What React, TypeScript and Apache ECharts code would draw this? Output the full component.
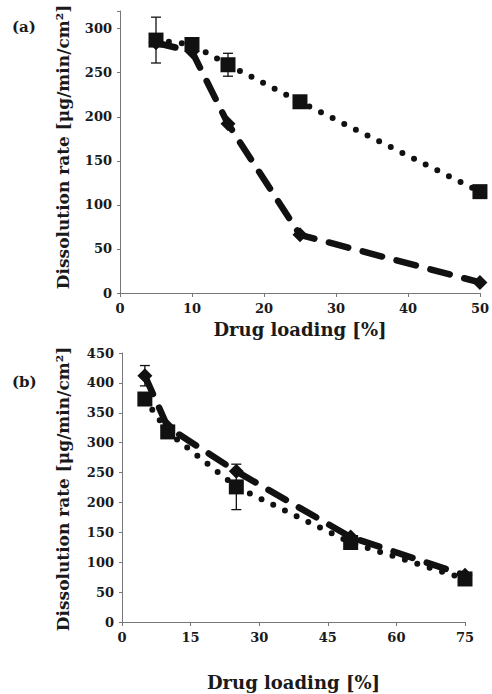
import React, { useEffect, useRef } from "react";
import * as echarts from "echarts";

// Panel (a)
const aLoading = [5, 10, 15, 25, 50];
const aSquare = [287, 282, 259, 217, 115];
const aSquareErr = [26, 4, 13, 0, 0];
const aDiamond = [284, 274, 192, 66, 12];
const aXTicks = [0, 10, 20, 30, 40, 50];
const aYTicks = [0, 50, 100, 150, 200, 250, 300];

// Panel (b)
const bLoading = [5, 10, 25, 50, 75];
const bSquare = [373, 318, 226, 133, 72];
const bSquareErr = [0, 10, 38, 0, 0];
const bDiamond = [412, 326, 252, 142, 78];
const bDiamondErr = [17, 0, 0, 0, 0];
const bXTicks = [0, 15, 30, 45, 60, 75];
const bYTicks = [0, 50, 100, 150, 200, 250, 300, 350, 400, 450];

const X_TITLE = "Drug loading [%]";
const Y_TITLE = "Dissolution rate [μg/min/cm²]";

const FONT = "DejaVu Serif";

function errData(xs: number[], ys: number[], es: number[]) {
  const out: number[][] = [];
  xs.forEach((x, i) => {
    if (es[i] > 0) out.push([x, ys[i] - es[i], ys[i] + es[i]]);
  });
  return out;
}

function errSeries(xi: number, data: number[][]) {
  return {
    type: "custom",
    xAxisIndex: xi,
    yAxisIndex: xi,
    z: 1,
    data,
    renderItem: (params: any, api: any) => {
      const x = api.value(0);
      const lo = api.coord([x, api.value(1)]);
      const hi = api.coord([x, api.value(2)]);
      const w = 5;
      const style = { stroke: "#111", lineWidth: 1.3 };
      return {
        type: "group",
        children: [
          { type: "line", shape: { x1: lo[0], y1: lo[1], x2: hi[0], y2: hi[1] }, style },
          { type: "line", shape: { x1: lo[0] - w, y1: lo[1], x2: lo[0] + w, y2: lo[1] }, style },
          { type: "line", shape: { x1: hi[0] - w, y1: hi[1], x2: hi[0] + w, y2: hi[1] }, style },
        ],
      };
    },
  };
}

function lineSeries(xi: number, xs: number[], ys: number[], symbol: string, size: number, dash: number[], width: number, z: number) {
  return {
    type: "line",
    xAxisIndex: xi,
    yAxisIndex: xi,
    z,
    data: xs.map((x, i) => [x, ys[i]]),
    symbol,
    symbolSize: size,
    itemStyle: { color: "#111" },
    lineStyle: { color: "#111", width, type: dash, cap: "round" },
  };
}

const labelStyle = { fontFamily: FONT, fontWeight: "bold" as const, fontSize: 13, color: "#1a1a1a" };
const xTitleStyle = { fontFamily: FONT, fontWeight: "bold" as const, fontSize: 18, color: "#1a1a1a" };
const axisLineStyle = { lineStyle: { color: "#777", width: 1 } };

function xAxis(gi: number, max: number, interval: number, ticks: number[], gap: number) {
  return {
    type: "value",
    gridIndex: gi,
    min: 0,
    max,
    interval,
    name: X_TITLE,
    nameLocation: "middle",
    nameGap: gap,
    nameTextStyle: xTitleStyle,
    axisLine: axisLineStyle,
    axisTick: { show: true, length: 4, lineStyle: { color: "#777" } },
    splitLine: { show: false },
    axisLabel: {
      ...labelStyle,
      margin: 9,
      formatter: (v: number) => (ticks.includes(v) ? String(v) : ""),
    },
  };
}

function yAxis(gi: number, max: number, ticks: number[]) {
  return {
    type: "value",
    gridIndex: gi,
    min: 0,
    max,
    interval: 50,
    axisLine: { show: true, ...axisLineStyle },
    axisTick: { show: true, length: 3, lineStyle: { color: "#777" } },
    splitLine: { show: false },
    axisLabel: {
      ...labelStyle,
      margin: 8,
      formatter: (v: number) => (ticks.includes(v) ? String(v) : ""),
    },
  };
}

function yTitle(cx: number, cy: number) {
  return {
    type: "text",
    x: cx,
    y: cy,
    rotation: Math.PI / 2,
    style: {
      text: Y_TITLE,
      font: `bold 17px "${FONT}"`,
      fill: "#1a1a1a",
      align: "center",
      verticalAlign: "middle",
    },
  };
}

export default function App() {
  const ref = useRef<HTMLDivElement>(null);
  useEffect(() => {
    if (!ref.current) return;
    const chart = echarts.init(ref.current, null, { renderer: "svg" });
    chart.setOption({
      animation: false,
      backgroundColor: "#ffffff",
      grid: [
        { left: 120, right: 9, top: 11, height: 282 },
        { left: 122, right: 27, top: 353, height: 269 },
      ],
      xAxis: [xAxis(0, 50, 10, aXTicks, 27), xAxis(1, 75, 15, bXTicks, 51)],
      yAxis: [yAxis(0, 320, aYTicks), yAxis(1, 450, bYTicks)],
      graphic: [
        { type: "text", left: 12, top: 19, style: { text: "(a)", font: `bold 15px "${FONT}"`, fill: "#1a1a1a" } },
        { type: "text", left: 12, top: 374, style: { text: "(b)", font: `bold 15px "${FONT}"`, fill: "#1a1a1a" } },
        yTitle(63, 147),
        yTitle(63, 489),
      ],
      series: [
        errSeries(0, errData(aLoading, aSquare, aSquareErr)),
        lineSeries(0, aLoading, aDiamond, "diamond", 15, [20, 15], 6.5, 2),
        lineSeries(0, aLoading, aSquare, "rect", 15, [0, 13], 6, 3),
        errSeries(1, errData(bLoading, bSquare, bSquareErr)),
        errSeries(1, errData(bLoading, bDiamond, bDiamondErr)),
        lineSeries(1, bLoading, bDiamond, "diamond", 15, [20, 15], 6.5, 2),
        lineSeries(1, bLoading, bSquare, "rect", 15, [0, 13], 6, 3),
      ],
    });
    return () => chart.dispose();
  }, []);
  return <div ref={ref} style={{ width: 492, height: 694, position: "absolute", left: 0, top: 0 }} />;
}
